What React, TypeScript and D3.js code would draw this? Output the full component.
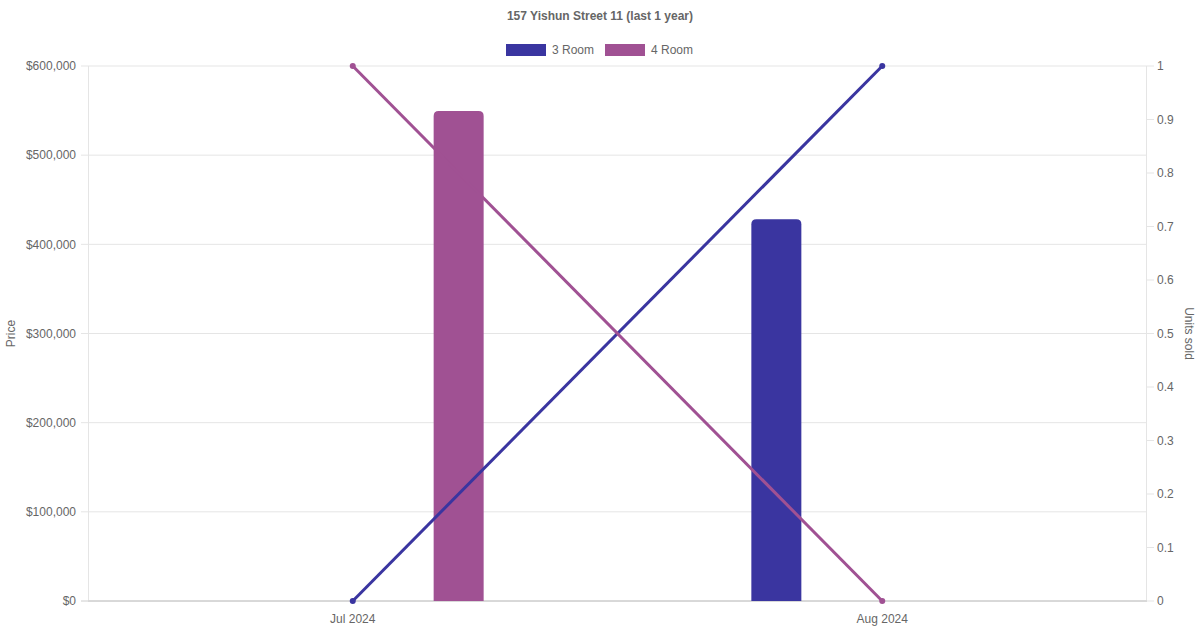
import * as d3 from "d3";

const months = ["Jul 2024", "Aug 2024"];
const seriesNames = ["3 Room", "4 Room"];
const seriesColors = ["#3a35a0", "#a05193"];
// median price per month (null = no sale)
const price3Room: (number | null)[] = [null, 428000];
const price4Room: (number | null)[] = [549500, null];
// units sold per month
const units3Room = [0, 1];
const units4Room = [1, 0];
const priceTicks = [0, 100000, 200000, 300000, 400000, 500000, 600000];
const unitTicks = [0, 0.1, 0.2, 0.3, 0.4, 0.5, 0.6, 0.7, 0.8, 0.9, 1];

const W = 1200;
const H = 630;
const M = { top: 66, right: 53, bottom: 29, left: 88 };
const FONT = "'Liberation Sans', Arial, Helvetica, sans-serif";
const TXT = "#666";

export default function App() {
  const innerW = W - M.left - M.right;
  const innerH = H - M.top - M.bottom;

  const x = d3.scaleBand<string>().domain(months).range([0, innerW]);
  const sub = d3
    .scaleBand<string>()
    .domain(seriesNames)
    .range([x.bandwidth() * 0.1, x.bandwidth() * 0.9]);
  const yP = d3.scaleLinear().domain([0, 600000]).range([innerH, 0]);
  const yU = d3.scaleLinear().domain([0, 1]).range([innerH, 0]);
  const fmt = (v: number) => "$" + d3.format(",")(v);
  const barW = Math.min(50, sub.bandwidth() * 0.9);

  const prices = [price3Room, price4Room];
  const units = [units3Room, units4Room];
  const line = d3
    .line<number>()
    .x((_, i) => (x(months[i]) ?? 0) + x.bandwidth() / 2)
    .y((d) => yU(d));

  const barPath = (x0: number, y0: number, w: number, h: number, r: number) => {
    const rr = Math.min(r, h, w / 2);
    return `M${x0},${y0 + h}V${y0 + rr}Q${x0},${y0} ${x0 + rr},${y0}H${x0 + w - rr}Q${x0 + w},${y0} ${x0 + w},${y0 + rr}V${y0 + h}Z`;
  };

  return (
    <svg
      width={W}
      height={H}
      style={{ display: "block", position: "fixed", left: 0, top: 0 }}
      fontFamily={FONT}
    >
      <rect width={W} height={H} fill="#fff" />
      <text x={W / 2} y={16} dy="0.35em" textAnchor="middle" fontSize={12} fontWeight="bold" fill={TXT}>
        157 Yishun Street 11 (last 1 year)
      </text>
      {/* legend */}
      {seriesNames.map((s, i) => {
        const lx = [506, 605][i];
        return (
          <g key={s}>
            <rect x={lx} y={44} width={40} height={12} fill={seriesColors[i]} />
            <text x={lx + 46} y={50} dy="0.35em" fontSize={12} fill={TXT}>
              {s}
            </text>
          </g>
        );
      })}
      <text transform={`translate(11,${M.top + innerH / 2}) rotate(-90)`} textAnchor="middle" dy="0.35em" fontSize={12} fill={TXT}>
        Price
      </text>
      <text transform={`translate(1189,${M.top + innerH / 2}) rotate(90)`} textAnchor="middle" dy="0.35em" fontSize={12} fill={TXT}>
        Units sold
      </text>
      <g transform={`translate(${M.left},${M.top})`}>
        {priceTicks.map((t) => (
          <g key={t}>
            <line x1={-7} x2={innerW} y1={yP(t)} y2={yP(t)} stroke={t === 0 ? "#ccc" : "#e5e5e5"} />
            <text x={-12} y={yP(t)} dy="0.35em" textAnchor="end" fontSize={12} fill={TXT}>
              {fmt(t)}
            </text>
          </g>
        ))}
        {unitTicks.map((t) => (
          <g key={t}>
            <line x1={innerW} x2={innerW + 7} y1={yU(t)} y2={yU(t)} stroke="#e5e5e5" />
            <text x={innerW + 10} y={yU(t)} dy="0.35em" fontSize={12} fill={TXT}>
              {d3.format("~g")(t)}
            </text>
          </g>
        ))}
        <line x1={0.5} x2={0.5} y1={0} y2={innerH} stroke="#e5e5e5" />
        <line x1={innerW - 0.5} x2={innerW - 0.5} y1={0} y2={innerH} stroke="#e5e5e5" />
        <line x1={0} x2={innerW} y1={innerH} y2={innerH} stroke="#ccc" />
        {months.map((m) => (
          <text key={m} x={(x(m) ?? 0) + x.bandwidth() / 2} y={innerH + 18} dy="0.35em" textAnchor="middle" fontSize={12} fill={TXT}>
            {m}
          </text>
        ))}
        {/* bars */}
        {prices.map((vals, si) =>
          vals.map((v, mi) => {
            if (v == null) return null;
            const cx = (x(months[mi]) ?? 0) + (sub(seriesNames[si]) ?? 0) + sub.bandwidth() / 2;
            const top = yP(v);
            return (
              <path key={`${si}-${mi}`} d={barPath(cx - barW / 2, top, barW, innerH - top, 5)} fill={seriesColors[si]} />
            );
          })
        )}
        {/* unit lines */}
        {units.map((vals, si) => (
          <g key={si}>
            <path d={line(vals) ?? ""} fill="none" stroke={seriesColors[si]} strokeWidth={3} />
            {vals.map((v, mi) => (
              <circle key={mi} cx={(x(months[mi]) ?? 0) + x.bandwidth() / 2} cy={yU(v)} r={3} fill={seriesColors[si]} />
            ))}
          </g>
        ))}
      </g>
    </svg>
  );
}
